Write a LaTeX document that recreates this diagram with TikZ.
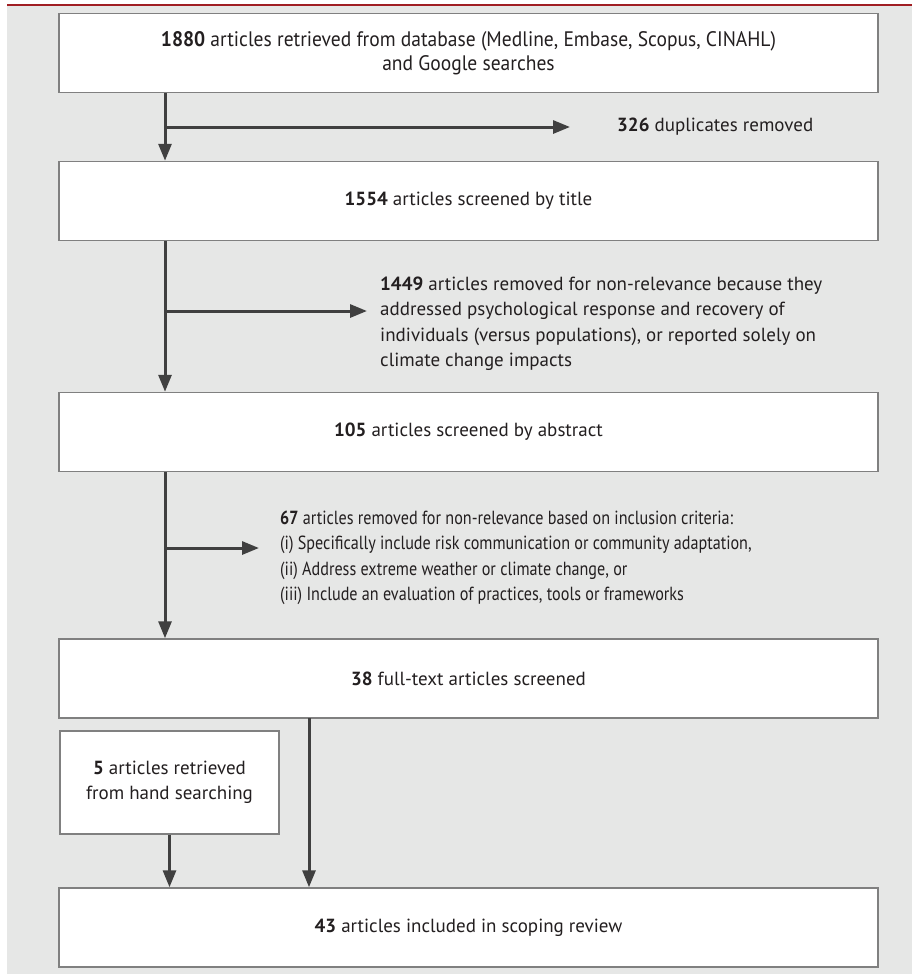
\documentclass[tikz,border=0pt]{standalone}
\usepackage{fontspec}
\setmainfont{PT Sans}
\newfontfamily\narrowfont[FakeStretch=0.85]{PT Sans}
\newfontfamily\headfont[FakeStretch=0.93]{PT Sans}
\usepackage{tikz}
\usetikzlibrary{positioning}
\usetikzlibrary{arrows.meta}
\definecolor{bgGrey}{RGB}{230,231,230}
\definecolor{frameGrey}{RGB}{128,128,128}
\definecolor{lineGrey}{RGB}{64,64,64}
\definecolor{textDark}{RGB}{35,31,32}
\definecolor{topRed}{RGB}{160,30,35}
\newcommand{\flowfont}{\fontsize{19}{25.5}\selectfont}
\tikzstyle{stage}=[draw=frameGrey,line width=1.5pt,fill=white,rectangle,minimum width=819pt,minimum height=79pt,align=center,font=\flowfont,text=textDark]
\tikzstyle{note}=[anchor=west,align=left,inner sep=0pt,font=\flowfont,text=textDark]
\tikzstyle{flow}=[draw=lineGrey,line width=3pt,-{Triangle[length=17pt,width=13pt]}]

\begin{document}
\begin{tikzpicture}[x=1pt,y=-1pt]
      \useasboundingbox (0,0) rectangle (912,974);
      \fill [bgGrey] (7,6) rectangle (912,974);
      \fill [topRed] (7,4) rectangle (912,6);
      % boxes
      \node [stage, font=\headfont\fontsize{21}{24}\selectfont] (found) at (468.5,53) {\textbf{1880} articles retrieved from database (Medline, Embase, Scopus, CINAHL)\\and Google searches};
      \node [stage] (title) at (468.5,201) {\textbf{1554} articles screened by title};
      \node [stage] (abstr) at (468.5,432) {\textbf{105} articles screened by abstract};
      \node [stage] (full) at (468.5,678.5) {\textbf{38} full-text articles screened};
      \node [stage, minimum width=219pt, minimum height=103pt] (hand) at (169.5,782.5) {\textbf{5} articles retrieved\\from hand searching};
      \node [stage] (incl) at (468.5,927.5) {\textbf{43} articles included in scoping review};
      % side notes
      \node [note] (dup) at (617,127) {\textbf{326} duplicates removed};
      \node [note] (rel) at (380,323.5) {\textbf{1449} articles removed for non-relevance because they\\addressed psychological response and recovery of\\individuals (versus populations), or reported solely on\\climate change impacts};
      \node [note, font=\narrowfont\flowfont] (crit) at (280,558) {\textbf{67} articles removed for non-relevance based on inclusion criteria:\\(i) Specifically include risk communication or community adaptation,\\(ii) Address extreme weather or climate change, or\\(iii) Include an evaluation of practices, tools or frameworks};
      % branch points
      \coordinate (s1) at (165,127);
      \coordinate (e1) at (570,127);
      \coordinate (s2) at (165,311);
      \coordinate (e2) at (367,311);
      \coordinate (s3) at (165,548);
      \coordinate (e3) at (259,548);
      \coordinate (drop) at (309,718);

      \draw [flow] (found.south -| s1) -- (title.north -| s1);
      \draw [flow] (s1) -- (e1);
      \draw [flow] (title.south -| s2) -- (abstr.north -| s2);
      \draw [flow] (s2) -- (e2);
      \draw [flow] (abstr.south -| s3) -- (full.north -| s3);
      \draw [flow] (s3) -- (e3);
      \draw [flow] (drop) -- (incl.north -| drop);
      \draw [flow] (hand.south) -- (incl.north -| hand.south);
\end{tikzpicture}
\end{document}
